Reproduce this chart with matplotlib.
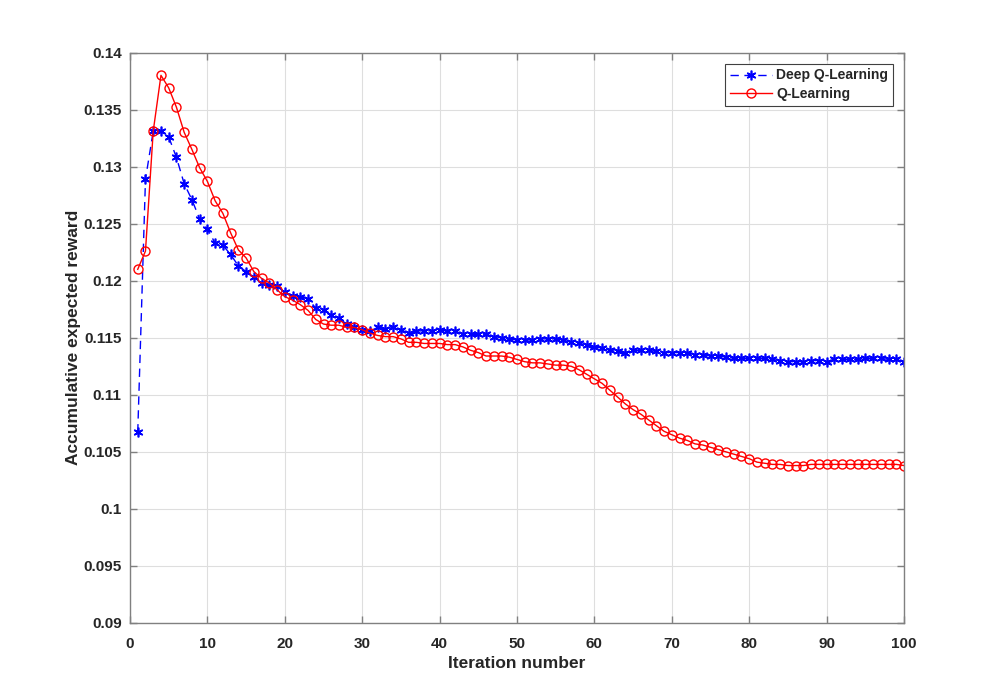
import matplotlib.pyplot as plt
from matplotlib.ticker import MultipleLocator, FormatStrFormatter
import numpy as np

plt.rcParams['font.family'] = ['Liberation Sans', 'DejaVu Sans']
plt.rcParams['font.weight'] = 'bold'

# номер итерации
iters = np.arange(1, 101)

# Deep Q-Learning
dql = [0.1067, 0.1289, 0.1331, 0.1331, 0.1326, 0.1308, 0.1285, 0.1271, 0.1254, 0.1245,
       0.1233, 0.1231, 0.1223, 0.1213, 0.1208, 0.1203, 0.1198, 0.1196, 0.1195, 0.1190,
       0.1187, 0.1186, 0.1184, 0.1176, 0.1174, 0.1170, 0.1167, 0.1162, 0.1159, 0.1157,
       0.1156, 0.1159, 0.1158, 0.1159, 0.1157, 0.1154, 0.1156, 0.1156, 0.1156, 0.1157,
       0.1156, 0.1156, 0.1153, 0.1153, 0.1153, 0.1153, 0.1151, 0.1150, 0.1149, 0.1148,
       0.1148, 0.1148, 0.1149, 0.1149, 0.1149, 0.1148, 0.1146, 0.1145, 0.1144, 0.1142,
       0.1141, 0.1139, 0.1138, 0.1137, 0.1139, 0.1139, 0.1139, 0.1138, 0.1137, 0.1137,
       0.1137, 0.1137, 0.1135, 0.1135, 0.1134, 0.1134, 0.1133, 0.1132, 0.1132, 0.1132,
       0.1132, 0.1132, 0.1131, 0.1130, 0.1129, 0.1129, 0.1129, 0.1130, 0.1130, 0.1129,
       0.1131, 0.1131, 0.1131, 0.1131, 0.1132, 0.1132, 0.1132, 0.1131, 0.1131, 0.1129]

# Q-Learning
ql = [0.1210, 0.1226, 0.1331, 0.1380, 0.1369, 0.1352, 0.1330, 0.1315, 0.1299, 0.1287,
      0.1270, 0.1259, 0.1242, 0.1227, 0.1220, 0.1208, 0.1202, 0.1198, 0.1192, 0.1186,
      0.1183, 0.1179, 0.1174, 0.1166, 0.1162, 0.1161, 0.1161, 0.1159, 0.1159, 0.1157,
      0.1154, 0.1152, 0.1151, 0.1151, 0.1149, 0.1146, 0.1146, 0.1145, 0.1145, 0.1145,
      0.1144, 0.1144, 0.1142, 0.1139, 0.1137, 0.1134, 0.1134, 0.1134, 0.1133, 0.1131,
      0.1129, 0.1128, 0.1128, 0.1127, 0.1126, 0.1126, 0.1125, 0.1122, 0.1118, 0.1114,
      0.1110, 0.1104, 0.1098, 0.1092, 0.1087, 0.1083, 0.1078, 0.1073, 0.1068, 0.1065,
      0.1062, 0.1060, 0.1057, 0.1056, 0.1054, 0.1052, 0.1050, 0.1048, 0.1046, 0.1044,
      0.1041, 0.1040, 0.1039, 0.1039, 0.1038, 0.1038, 0.1038, 0.1039, 0.1039, 0.1039,
      0.1039, 0.1039, 0.1039, 0.1039, 0.1039, 0.1039, 0.1039, 0.1039, 0.1039, 0.1038]

txt = '#262626'
axcol = '#808080'

fig = plt.figure(figsize=(10, 7), dpi=100)
ax = fig.add_axes([0.13, 0.11, 0.774, 0.815])

asterisk = (6, 2, 0)
ax.plot(iters, dql, color='#0000ff', linestyle=(0, (6, 4)), linewidth=1.0,
        marker=asterisk, markersize=7, markeredgewidth=1.2, label='Deep Q-Learning')
ax.plot(iters, ql, color='#ff0000', linestyle='-', linewidth=1.0,
        marker='o', markersize=6.5, markerfacecolor='none', markeredgewidth=1.0,
        label='Q-Learning')

ax.set_xlim(0, 100)
ax.set_ylim(0.09, 0.14)
ax.xaxis.set_major_locator(MultipleLocator(10))
ax.yaxis.set_major_locator(MultipleLocator(0.005))
ax.yaxis.set_major_formatter(FormatStrFormatter('%g'))

ax.grid(True, color='#dedede', linewidth=0.8)
ax.set_axisbelow(True)

for s in ax.spines.values():
    s.set_color(axcol)
    s.set_linewidth(1.0)
ax.tick_params(direction='in', length=5, width=1, color=axcol, labelcolor=txt,
               labelsize=11, top=True, right=True, pad=6)
ax.tick_params(axis='x', pad=10)
for lab in ax.get_xticklabels() + ax.get_yticklabels():
    lab.set_fontweight('bold')

ax.set_xlabel('Iteration number', fontsize=12.5, fontweight='bold', color=txt, labelpad=4)
ax.set_ylabel('Accumulative expected reward', fontsize=12.5, fontweight='bold', color=txt, labelpad=2)

leg = ax.legend(loc='upper right', fontsize=10, fancybox=False, framealpha=1,
                edgecolor='#404040', handlelength=3.0, borderaxespad=0.8,
                labelspacing=0.3, handletextpad=0.3, borderpad=0.35)
leg.get_frame().set_linewidth(0.8)
for t in leg.get_texts():
    t.set_color(txt)
    t.set_fontweight('bold')

plt.savefig('out.png', dpi=100)
